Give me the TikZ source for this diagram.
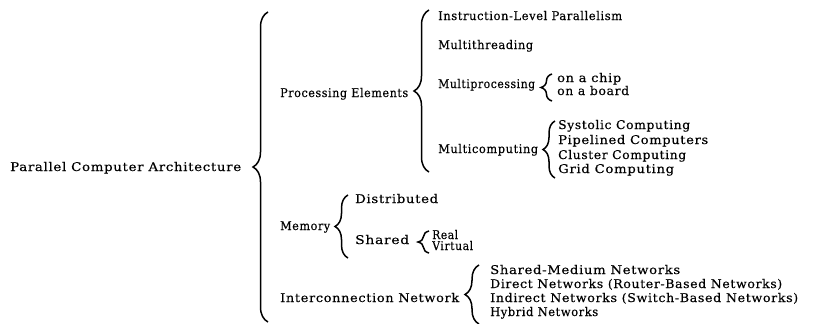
\documentclass[tikz,border=0pt]{standalone}
\usepackage{fontspec}
\usepackage{graphicx}
\setmainfont{DejaVu Serif}[LetterSpace=5,FakeBold=0.25]
\usetikzlibrary{decorations.pathreplacing}
% set a label to a given width, keeping its height
\newcommand\fitlabel[2]{\resizebox{#1pt}{\height}{#2}}
\begin{document}
\begin{tikzpicture}[x=1pt,y=-1pt,
  lbl/.style={anchor=west,inner sep=0pt,text height=8pt,text depth=2pt,
    font=\fontsize{12}{14}\selectfont},
  curly/.style={decorate,decoration={brace,amplitude=#1},line width=1.5pt},
  curly/.default=14pt]
\useasboundingbox (0,0) rectangle (815,324);

% root
\node[lbl] (root) at (10,168) {\fitlabel{231}{Parallel Computer Architecture}};
\coordinate (rootB) at (268,322);
\coordinate (rootT) at (268,12);
\draw[curly=15pt] (rootB) -- (rootT);

% processing elements
\node[lbl] (pe) at (280,94) {\fitlabel{128}{Processing Elements}};
\coordinate (peB) at (429,172);
\coordinate (peT) at (429,10);
\draw[curly=15pt] (peB) -- (peT);
\node[lbl] (ilp) at (438,17) {\fitlabel{184}{Instruction-Level Parallelism}};
\node[lbl] (mt) at (438,46) {\fitlabel{95}{Multithreading}};
\node[lbl] (mp) at (438,85) {\fitlabel{97}{Multiprocessing}};
\coordinate (mpB) at (552,101);
\coordinate (mpT) at (552,74);
\draw[curly=11pt] (mpB) -- (mpT);
\node[lbl] (chip) at (557,79) {\fitlabel{64}{on a chip}};
\node[lbl] (board) at (557,92) {\fitlabel{72}{on a board}};
\node[lbl] (mc) at (438,150) {\fitlabel{100}{Multicomputing}};
\coordinate (mcB) at (555,178);
\coordinate (mcT) at (555,121);
\draw[curly=12pt] (mcB) -- (mcT);
\node[lbl] (sys) at (558,126) {\fitlabel{132}{Systolic Computing}};
\node[lbl] (pipe) at (558,141) {\fitlabel{150}{Pipelined Computers}};
\node[lbl] (clu) at (558,156) {\fitlabel{128}{Cluster Computing}};
\node[lbl] (grid) at (558,170) {\fitlabel{116}{Grid Computing}};

% memory
\node[lbl] (mem) at (280,227) {\fitlabel{50}{Memory}};
\coordinate (memB) at (348,258);
\coordinate (memT) at (348,195);
\draw[curly=13pt] (memB) -- (memT);
\node[lbl] (dist) at (355,200) {\fitlabel{83}{Distributed}};
\node[lbl] (sh) at (355,241) {\fitlabel{54}{Shared}};
\coordinate (shB) at (429,253);
\coordinate (shT) at (429,231);
\draw[curly=11pt] (shB) -- (shT);
\node[lbl] (real) at (432,236) {\fitlabel{26}{Real}};
\node[lbl] (virt) at (432,247) {\fitlabel{41}{Virtual}};

% interconnection network
\node[lbl] (net) at (280,299) {\fitlabel{179}{Interconnection Network}};
\coordinate (netB) at (479,324);
\coordinate (netT) at (479,265);
\draw[curly=14pt] (netB) -- (netT);
\node[lbl] (smn) at (490,271) {\fitlabel{190}{Shared-Medium Networks}};
\node[lbl] (dn) at (490,285) {\fitlabel{292}{Direct Networks (Router-Based Networks)}};
\node[lbl] (idn) at (490,299) {\fitlabel{308}{Indirect Networks (Switch-Based Networks)}};
\node[lbl] (hyb) at (490,313) {\fitlabel{108}{Hybrid Networks}};
\end{tikzpicture}
\end{document}
